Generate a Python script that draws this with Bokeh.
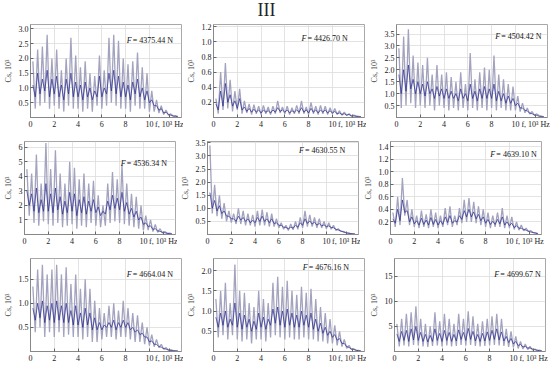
from bokeh.plotting import figure
from bokeh.models import Range1d, FixedTicker, Label, Div
from bokeh.layouts import column, row
from bokeh.embed import file_html
from bokeh.resources import INLINE

TITLE = "III"
FORCES = ["4375.44", "4426.70", "4504.42", "4536.34", "4630.55",
          "4639.10", "4664.04", "4676.16", "4699.67"]
FREQ_STEP = 0.2  # 10^3 Hz between samples
X_TICKS = [0, 2, 4, 6, 8, 10]
X_LABEL = "f, 10³ Hz"
Y_LABEL = "Cs, 10³"

Y_TICKS = [
    [0.5, 1.0, 1.5, 2.0, 2.5, 3.0],
    [0.2, 0.4, 0.6, 0.8, 1.0, 1.2],
    [0.5, 1.0, 1.5, 2.0, 2.5, 3.0, 3.5],
    [1, 2, 3, 4, 5, 6],
    [0.5, 1.0, 1.5, 2.0, 2.5, 3.0, 3.5],
    [0.2, 0.4, 0.6, 0.8, 1.0, 1.2, 1.4],
    [0.5, 1.0, 1.5],
    [0.5, 1.0, 1.5, 2.0],
    [5, 10, 15],
]
Y_TICK_LABELS = [
    ["0.5", "1.0", "1.5", "2.0", "2.5", "3.0"],
    ["0.2", "0.4", "0.6", "0.8", "1.0", "1.2"],
    ["0.5", "1.0", "1.5", "2.0", "2.5", "3.0", "3.5"],
    ["1", "2", "3", "4", "5", "6"],
    ["0.5", "1.0", "1.5", "2.0", "2.5", "3.0", "3.5"],
    ["0.2", "0.4", "0.6", "0.8", "1.0", "1.2", "1.4"],
    ["0.5", "1.0", "1.5"],
    ["0.5", "1.0", "1.5", "2.0"],
    ["5", "10", "15"],
]
Y_MAX = [3.15, 1.23, 3.9, 6.4, 3.55, 1.48, 1.93, 2.3, 18.5]

# light (grey) trace of each spectrum
S1_LIGHT = [1.9,0.3,2.3,0.4,2.4,0.5,2.8,0.3,2.0,0.4,2.3,0.3,1.6,0.2,2.0,0.4,2.7,0.3,2.1,0.3,1.7,0.2,1.9,0.3,1.5,0.2,1.4,0.4,2.1,0.3,1.6,0.4,2.7,0.5,2.8,0.4,2.6,0.3,2.0,0.3,1.8,0.2,1.9,0.4,2.2,0.3,1.7,0.3,1.5,0.2,0.9,0.2,0.6,0.15,0.4,0.1,0.25,0.08,0.12,0.05,0.06,0.03]
S1_DARK = [1.1,0.7,1.5,0.8,1.3,0.9,1.6,0.7,1.3,0.8,1.4,0.7,1.1,0.6,1.3,0.8,1.5,0.7,1.2,0.7,1.1,0.6,1.2,0.7,1.0,0.6,0.9,0.7,1.4,0.7,1.0,0.8,1.5,0.9,1.6,0.8,1.4,0.7,1.2,0.7,1.1,0.6,1.2,0.8,1.3,0.7,1.0,0.6,0.9,0.5,0.6,0.4,0.4,0.25,0.3,0.15,0.18,0.1,0.08,0.05,0.04,0.02]
S2_LIGHT = [0.25,0.05,0.6,0.1,0.72,0.12,0.5,0.08,0.35,0.1,0.38,0.05,0.22,0.06,0.18,0.04,0.17,0.05,0.15,0.04,0.16,0.05,0.14,0.04,0.15,0.05,0.22,0.06,0.14,0.05,0.15,0.04,0.13,0.05,0.16,0.05,0.22,0.05,0.14,0.04,0.2,0.05,0.15,0.04,0.16,0.05,0.15,0.04,0.13,0.05,0.12,0.04,0.09,0.03,0.07,0.03,0.05,0.02,0.03,0.02,0.015,0.01]
S2_DARK = [0.18,0.1,0.35,0.15,0.45,0.2,0.3,0.15,0.22,0.12,0.25,0.1,0.14,0.08,0.12,0.07,0.11,0.07,0.1,0.06,0.1,0.07,0.09,0.06,0.1,0.07,0.13,0.08,0.1,0.07,0.1,0.06,0.09,0.07,0.1,0.07,0.13,0.07,0.1,0.06,0.12,0.07,0.1,0.06,0.1,0.07,0.1,0.06,0.09,0.06,0.08,0.05,0.06,0.04,0.05,0.03,0.04,0.02,0.02,0.015,0.01,0.008]
S3_LIGHT = [2.9,0.4,3.4,0.5,3.7,0.6,2.6,0.4,2.3,0.5,2.2,0.4,2.5,0.5,1.8,0.3,2.2,0.5,1.8,0.4,1.9,0.3,1.7,0.4,1.5,0.3,1.9,0.4,1.4,0.3,2.7,0.4,1.6,0.3,1.9,0.4,2.1,0.3,2.0,0.4,2.6,0.3,1.8,0.4,1.6,0.3,1.4,0.3,1.3,0.3,0.9,0.25,0.6,0.2,0.4,0.15,0.25,0.1,0.15,0.08,0.06,0.03]
S3_DARK = [1.8,1.0,2.0,1.1,2.2,1.2,1.6,1.0,1.5,1.0,1.4,0.9,1.5,1.0,1.2,0.8,1.3,0.9,1.2,0.8,1.2,0.8,1.1,0.8,1.0,0.7,1.2,0.8,1.0,0.7,1.4,0.8,1.1,0.7,1.2,0.8,1.3,0.8,1.2,0.8,1.4,0.7,1.1,0.7,1.0,0.6,0.9,0.6,0.8,0.5,0.6,0.4,0.4,0.3,0.28,0.18,0.16,0.1,0.09,0.05,0.04,0.02]
S4_LIGHT = [4.5,1.3,4.2,0.8,5.5,0.6,3.5,0.9,6.3,0.7,4.5,0.6,5.8,0.8,4.2,0.5,3.5,0.6,5.0,0.7,4.6,0.4,3.8,0.6,4.2,0.5,3.5,0.8,3.7,0.6,2.7,0.5,2.0,0.6,3.5,0.8,4.3,0.9,3.8,0.8,4.8,0.7,3.5,0.6,2.8,0.5,2.6,0.4,2.0,0.3,1.3,0.3,1.0,0.2,0.7,0.15,0.4,0.1,0.2,0.08,0.1,0.05]
S4_DARK = [3.0,2.0,2.8,1.6,3.2,1.5,2.4,1.6,3.5,1.6,2.8,1.5,3.2,1.7,2.6,1.4,2.3,1.5,2.9,1.6,2.8,1.3,2.4,1.5,2.6,1.4,2.3,1.6,2.4,1.5,1.9,1.3,1.6,1.4,2.3,1.7,2.7,1.8,2.5,1.7,2.9,1.6,2.2,1.4,1.8,1.2,1.6,1.0,1.2,0.7,0.8,0.55,0.6,0.35,0.4,0.25,0.22,0.15,0.12,0.08,0.06,0.03]
S5_LIGHT = [3.4,0.8,1.9,0.7,1.5,0.6,1.2,0.5,0.9,0.45,0.8,0.4,1.0,0.4,0.9,0.35,0.8,0.35,0.75,0.3,0.9,0.35,0.95,0.35,0.85,0.3,0.8,0.3,0.6,0.25,0.45,0.2,0.35,0.15,0.4,0.18,0.5,0.2,0.65,0.25,0.9,0.3,0.75,0.3,0.65,0.25,0.6,0.25,0.5,0.22,0.45,0.2,0.35,0.15,0.22,0.12,0.12,0.07,0.06,0.04,0.03,0.02]
S5_DARK = [1.6,1.0,1.3,0.9,1.1,0.8,0.9,0.7,0.7,0.6,0.6,0.5,0.7,0.55,0.65,0.5,0.6,0.45,0.55,0.45,0.65,0.5,0.7,0.5,0.6,0.45,0.6,0.42,0.45,0.35,0.35,0.28,0.27,0.22,0.28,0.24,0.35,0.28,0.45,0.35,0.6,0.42,0.52,0.4,0.47,0.36,0.42,0.33,0.37,0.3,0.33,0.27,0.26,0.2,0.17,0.14,0.1,0.08,0.05,0.04,0.025,0.015]
S6_LIGHT = [0.35,0.12,0.6,0.15,0.9,0.3,0.55,0.15,0.4,0.12,0.3,0.1,0.38,0.12,0.32,0.1,0.4,0.12,0.35,0.1,0.3,0.12,0.42,0.15,0.45,0.12,0.3,0.15,0.42,0.18,0.55,0.2,0.58,0.2,0.52,0.18,0.45,0.15,0.4,0.12,0.35,0.1,0.3,0.12,0.35,0.12,0.42,0.1,0.3,0.1,0.28,0.08,0.2,0.07,0.15,0.06,0.1,0.05,0.06,0.03,0.03,0.015]
S6_DARK = [0.25,0.18,0.4,0.22,0.55,0.35,0.38,0.2,0.28,0.17,0.22,0.15,0.26,0.16,0.23,0.15,0.27,0.16,0.24,0.15,0.22,0.16,0.28,0.19,0.3,0.18,0.22,0.2,0.3,0.24,0.38,0.28,0.4,0.28,0.36,0.25,0.32,0.22,0.28,0.18,0.24,0.16,0.21,0.16,0.24,0.17,0.28,0.15,0.2,0.14,0.18,0.11,0.14,0.1,0.1,0.08,0.07,0.05,0.04,0.03,0.02,0.01]
S7_LIGHT = [1.35,0.4,1.7,0.5,1.8,0.3,1.6,0.4,1.7,0.3,1.8,0.4,1.6,0.3,1.75,0.35,1.4,0.3,1.6,0.3,1.3,0.25,1.5,0.3,1.3,0.2,1.05,0.2,0.9,0.25,0.8,0.3,0.95,0.3,1.0,0.25,0.85,0.3,1.05,0.3,0.9,0.25,0.8,0.2,0.75,0.2,0.6,0.15,0.5,0.12,0.35,0.1,0.25,0.08,0.15,0.05,0.08,0.03,0.04,0.02,0.02,0.01]
S7_DARK = [0.9,0.65,1.0,0.7,1.05,0.6,0.95,0.65,1.0,0.6,1.05,0.65,0.95,0.6,1.0,0.6,0.85,0.55,0.95,0.55,0.8,0.5,0.9,0.55,0.8,0.45,0.7,0.45,0.6,0.45,0.55,0.5,0.6,0.5,0.65,0.45,0.6,0.5,0.65,0.5,0.6,0.45,0.5,0.4,0.45,0.35,0.38,0.3,0.3,0.2,0.22,0.15,0.15,0.1,0.09,0.06,0.05,0.03,0.02,0.015,0.01,0.008]
S8_LIGHT = [1.3,0.35,1.5,0.4,1.7,0.3,1.2,0.4,2.15,0.3,1.5,0.25,1.45,0.3,1.2,0.2,1.1,0.3,1.5,0.3,1.3,0.25,1.2,0.35,1.7,0.4,1.85,0.35,1.6,0.3,1.75,0.35,1.5,0.3,1.4,0.3,1.6,0.35,1.45,0.3,1.55,0.3,1.3,0.25,1.1,0.25,0.95,0.2,0.8,0.2,0.65,0.15,0.5,0.12,0.3,0.08,0.15,0.05,0.07,0.03,0.03,0.01]
S8_DARK = [0.85,0.6,0.95,0.65,1.0,0.6,0.8,0.65,1.2,0.6,0.95,0.55,0.9,0.6,0.8,0.5,0.75,0.55,0.95,0.6,0.85,0.55,0.8,0.65,1.05,0.7,1.1,0.65,1.0,0.6,1.05,0.65,0.95,0.6,0.9,0.6,1.0,0.65,0.9,0.6,0.95,0.55,0.8,0.5,0.7,0.45,0.6,0.4,0.5,0.35,0.42,0.28,0.32,0.2,0.2,0.12,0.1,0.06,0.05,0.03,0.02,0.01]
S9_LIGHT = [5.5,1.0,6.5,1.2,7.5,1.0,7.8,1.3,9.0,1.2,6.5,1.0,5.5,0.9,5.0,1.1,7.8,1.2,6.0,1.0,7.5,1.2,6.5,1.0,5.5,1.1,7.5,1.3,6.5,1.2,8.0,1.3,7.0,1.1,5.5,1.0,6.0,1.1,6.5,1.2,7.0,1.3,7.5,1.2,6.5,1.1,4.5,0.9,4.0,0.8,3.0,0.6,2.0,0.5,1.5,0.4,1.0,0.3,0.5,0.2,0.25,0.1]
S9_DARK = [3.5,2.0,4.0,2.2,4.2,2.0,4.5,2.3,5.0,2.2,3.8,2.0,3.4,1.9,3.2,2.0,4.5,2.2,3.6,2.0,4.2,2.2,3.8,2.0,3.4,2.1,4.3,2.4,3.8,2.2,4.6,2.4,4.0,2.1,3.4,2.0,3.6,2.1,3.9,2.2,4.2,2.4,4.5,2.3,3.9,2.1,3.0,1.8,2.6,1.5,2.0,1.2,1.4,0.9,1.0,0.7,0.7,0.5,0.35,0.25,0.15,0.08]

LIGHT = [S1_LIGHT, S2_LIGHT, S3_LIGHT, S4_LIGHT, S5_LIGHT, S6_LIGHT, S7_LIGHT, S8_LIGHT, S9_LIGHT]
DARK = [S1_DARK, S2_DARK, S3_DARK, S4_DARK, S5_DARK, S6_DARK, S7_DARK, S8_DARK, S9_DARK]

# layout settings (label anchor: x in data units, offset from top in px)
LABEL_POS = [(8.1, 16), (7.4, 14), (8.3, 12), (8.1, 22), (7.7, 9), (8.4, 13), (8.1, 16), (7.5, 9), (8.4, 16)]

SERIF = "Liberation Serif"
FRAME_W, FRAME_H = 151, 93


def make_panel(i, top_border, bottom_border):
    col = i % 3
    left_b, right_b = (23, 5) if col == 2 else (24, 2)
    p = figure(frame_width=FRAME_W, frame_height=FRAME_H,
               x_range=Range1d(0, 12.7), y_range=Range1d(0, Y_MAX[i]),
               output_backend="svg", toolbar_location=None,
               min_border_left=left_b, min_border_right=right_b, min_border_top=top_border,
               min_border_bottom=bottom_border)
    p.background_fill_color = "white"
    p.border_fill_color = "white"
    p.outline_line_color = "#a8a8a8"

    light = LIGHT[i]
    dark = DARK[i]
    xl = [FREQ_STEP * (k + 1) for k in range(len(light))]
    xd = [FREQ_STEP * (k + 1) for k in range(len(dark))]
    p.line(xl, light, line_color="#a3a3bf", line_width=1.3)
    p.line(xd, dark, line_color="#2c2c8e", line_width=0.8, line_alpha=0.9)

    # x axis
    f_pos = 11.7
    p.xaxis.ticker = FixedTicker(ticks=X_TICKS + [f_pos])
    p.xaxis.major_label_overrides = {f_pos: X_LABEL}
    p.xgrid.ticker = FixedTicker(ticks=X_TICKS[1:])
    # y axis
    p.yaxis.ticker = FixedTicker(ticks=Y_TICKS[i])
    p.yaxis.major_label_overrides = dict(zip(Y_TICKS[i], Y_TICK_LABELS[i]))
    p.yaxis.axis_label = Y_LABEL
    p.yaxis.axis_label_text_font = SERIF
    p.yaxis.axis_label_text_font_size = "8px"
    p.yaxis.axis_label_text_font_style = "normal"
    p.yaxis.axis_label_standoff = 3
    for ax in (p.xaxis, p.yaxis):
        ax.major_label_text_font = SERIF
        ax.major_label_text_font_size = "8px"
        ax.major_label_text_color = "#222222"
        ax.major_tick_in = 3
        ax.major_tick_out = 0
        ax.minor_tick_in = 0
        ax.minor_tick_out = 0
        ax.major_tick_line_color = "#666666"
        ax.axis_line_color = "#888888"
        ax.major_label_standoff = 2
    p.grid.grid_line_color = "#dcdcdc"
    p.grid.grid_line_width = 0.8

    lx, off = LABEL_POS[i]
    ly = Y_MAX[i] * (1 - off / FRAME_H)
    p.add_layout(Label(x=lx, y=ly, text="F", text_font=SERIF, text_font_style="italic",
                       text_font_size="8px", text_baseline="middle", text_color="#111111"))
    p.add_layout(Label(x=lx, y=ly, x_offset=6, text="= " + FORCES[i] + " N", text_font=SERIF,
                       text_font_size="8px", text_baseline="middle", text_color="#111111"))
    return p


borders = [(6, 16)] * 3 + [(8, 16)] * 3 + [(8, 13)] * 3
panels = [make_panel(i, *borders[i]) for i in range(9)]

title = Div(text=TITLE, width=533, height=18, margin=0,
            styles={"font-family": SERIF, "font-size": "18px", "text-align": "center",
                    "line-height": "1", "padding-top": "1px", "color": "#222222"})

layout = column(title,
                row(panels[0], panels[1], panels[2], spacing=0),
                row(panels[3], panels[4], panels[5], spacing=0),
                row(panels[6], panels[7], panels[8], spacing=0),
                spacing=0)

open("out.html", "w").write(file_html(layout, INLINE))
